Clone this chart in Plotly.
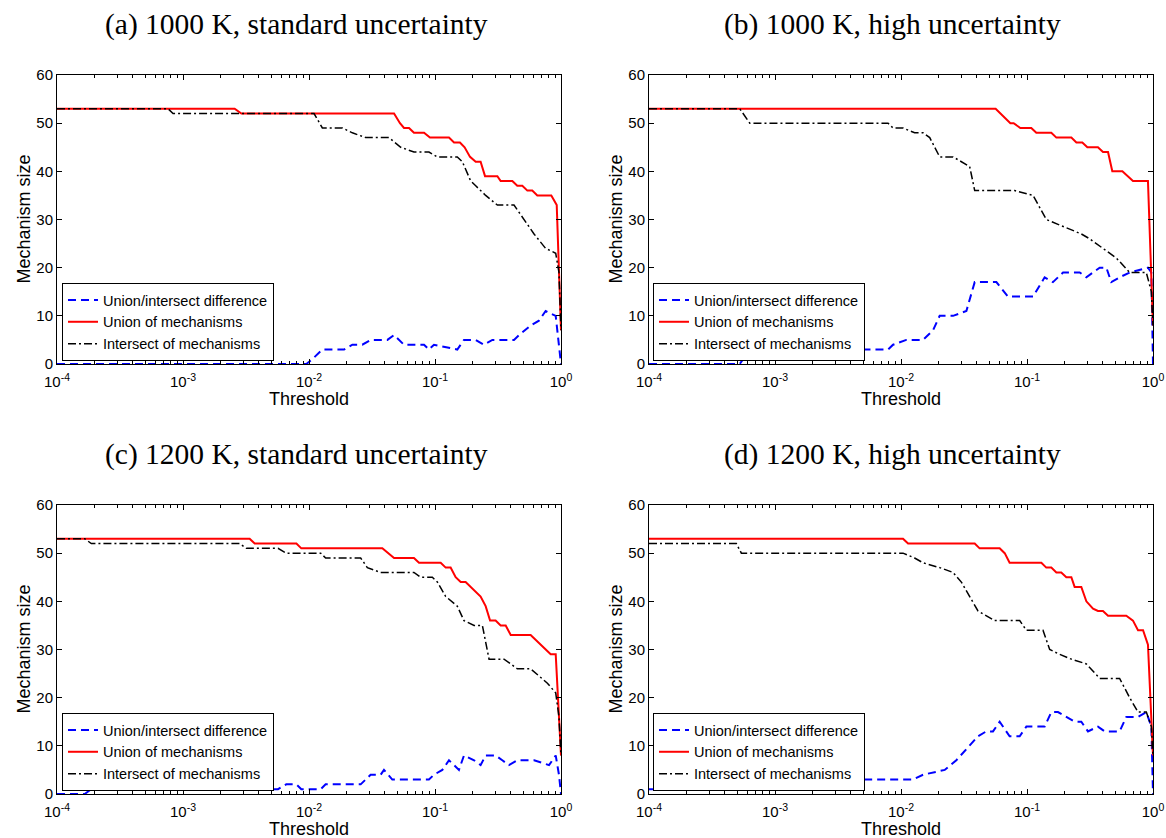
import plotly.graph_objects as go

# ---------------- data (threshold given as log10 exponent, mechanism sizes) ----------------
# (a) 1000 K, standard uncertainty
a_diff_logt = [-4, -2.021, -1.974, -1.894, -1.722, -1.656, -1.577, -1.511, -1.378, -1.325, -1.246, -1.087, -1.048,
               -1.008, -0.823, -0.770, -0.677, -0.611, -0.545, -0.373, -0.333, -0.241, -0.175, -0.122, -0.042, -0.016, 0]
a_diff = [0, 0, 1, 3, 3, 4, 4, 5, 5, 6, 4, 4, 3, 4, 3, 5, 5, 4, 5, 5, 6, 8, 9, 11, 10, 4, 0]
a_union_logt = [-4, -2.59, -2.537, -1.325, -1.278, -1.246, -1.206, -1.167, -1.087, -1.040, -0.889, -0.849, -0.802,
                -0.765, -0.722, -0.677, -0.638, -0.603, -0.505, -0.479, -0.386, -0.347, -0.307, -0.267, -0.228,
                -0.188, -0.077, -0.034, 0]
a_union = [53, 53, 52, 52, 50, 49, 49, 48, 48, 47, 47, 46, 46, 45, 43, 42, 42, 39, 39, 38, 38, 37, 37, 36, 36, 35,
           35, 33, 7]
a_inter_logt = [-4, -3.119, -3.079, -1.960, -1.894, -1.735, -1.656, -1.550, -1.365, -1.272, -1.167, -1.048, -0.981,
                -0.823, -0.783, -0.717, -0.677, -0.598, -0.505, -0.373, -0.320, -0.214, -0.122, -0.042, -0.016, 0]
a_inter = [53, 53, 52, 52, 49, 49, 48, 47, 47, 45, 44, 44, 43, 43, 42, 38, 37, 35, 33, 33, 31, 27, 24, 23, 19, 7]

# (b) 1000 K, high uncertainty
b_diff_logt = [-4, -3.28, -3.20, -2.103, -2.063, -1.958, -1.825, -1.746, -1.693, -1.587, -1.481, -1.415, -1.243,
               -1.151, -0.952, -0.860, -0.794, -0.714, -0.582, -0.529, -0.423, -0.370, -0.331, -0.265, -0.185,
               -0.040, -0.013, 0]
b_diff = [0, 0, 3, 3, 4, 5, 5, 7, 10, 10, 11, 17, 17, 14, 14, 18, 17, 19, 19, 18, 20, 20, 17, 18, 19, 20, 19, 0]
b_union_logt = [-4, -1.249, -1.132, -1.106, -1.053, -0.966, -0.926, -0.807, -0.767, -0.648, -0.608, -0.561, -0.521,
                -0.437, -0.397, -0.357, -0.323, -0.243, -0.159, -0.040, 0]
b_union = [53, 53, 50, 50, 49, 49, 48, 48, 47, 47, 46, 46, 45, 45, 44, 44, 40, 40, 38, 38, 8]
b_inter_logt = [-4, -3.28, -3.20, -2.103, -2.063, -1.984, -1.892, -1.825, -1.772, -1.693, -1.587, -1.455, -1.415,
                -1.098, -0.952, -0.847, -0.754, -0.661, -0.569, -0.503, -0.397, -0.291, -0.185, -0.053, -0.013, 0]
b_inter = [53, 53, 50, 50, 49, 49, 48, 48, 47, 43, 43, 41, 36, 36, 35, 30, 29, 28, 27, 26, 24, 22, 19, 19, 15, 8]

# (c) 1200 K, standard uncertainty
c_diff_logt = [-4, -3.78, -3.728, -2.55, -2.497, -2.471, -2.431, -2.246, -2.18, -2.10, -2.061, -1.907, -1.868,
               -1.590, -1.511, -1.431, -1.405, -1.339, -1.048, -1.008, -0.942, -0.889, -0.810, -0.770, -0.690,
               -0.638, -0.598, -0.519, -0.466, -0.413, -0.347, -0.214, -0.095, -0.042, -0.016, 0]
c_diff = [0, 0, 1, 1, 2, 2, 1, 1, 2, 2, 1, 1, 2, 2, 4, 4, 5, 3, 3, 4, 5, 7, 5, 8, 7, 6, 8, 8, 7, 6, 7, 7, 6, 8, 4, 0]
c_union_logt = [-4, -2.471, -2.431, -2.10, -2.061, -1.418, -1.325, -1.167, -1.127, -0.955, -0.915, -0.876, -0.836,
                -0.796, -0.757, -0.638, -0.598, -0.563, -0.519, -0.479, -0.439, -0.399, -0.241, -0.082, -0.042, 0]
c_union = [53, 53, 52, 52, 51, 51, 49, 49, 48, 48, 47, 47, 45, 44, 44, 41, 39, 36, 36, 35, 35, 33, 33, 29, 29, 8]
c_inter_logt = [-4, -3.78, -3.728, -2.55, -2.497, -2.246, -2.18, -1.907, -1.868, -1.590, -1.537, -1.431, -1.167,
                -1.114, -1.021, -0.981, -0.915, -0.823, -0.770, -0.690, -0.624, -0.571, -0.452, -0.347, -0.241,
                -0.108, -0.042, -0.016, 0]
c_inter = [53, 53, 52, 52, 51, 51, 50, 50, 49, 49, 47, 46, 46, 45, 45, 44, 41, 39, 36, 35, 35, 28, 28, 26, 26, 23,
           21, 16, 8]

# (d) 1200 K, high uncertainty
d_diff_logt = [-4, -3.307, -3.267, -1.984, -1.905, -1.825, -1.653, -1.561, -1.455, -1.389, -1.323, -1.270, -1.217,
               -1.138, -1.058, -1.005, -0.860, -0.807, -0.754, -0.622, -0.569, -0.516, -0.437, -0.384, -0.265,
               -0.212, -0.119, -0.053, -0.013, 0]
d_diff = [1, 1, 3, 3, 3, 4, 5, 7, 10, 12, 13, 13, 15, 12, 12, 14, 14, 17, 17, 15, 15, 13, 14, 13, 13, 16, 16, 17,
          14, 0]
d_union_logt = [-4, -1.984, -1.944, -1.415, -1.376, -1.217, -1.177, -1.138, -0.886, -0.847, -0.807, -0.767, -0.728,
                -0.688, -0.648, -0.622, -0.569, -0.529, -0.476, -0.437, -0.397, -0.357, -0.212, -0.159, -0.119,
                -0.079, -0.040, 0]
d_union = [53, 53, 52, 52, 51, 51, 50, 48, 48, 47, 47, 46, 46, 45, 45, 43, 43, 40, 38.5, 38, 38, 37, 37, 36, 34, 34,
           31, 8]
d_inter_logt = [-4, -3.307, -3.267, -1.984, -1.892, -1.825, -1.693, -1.587, -1.521, -1.455, -1.389, -1.257, -1.058,
                -1.005, -0.873, -0.820, -0.741, -0.648, -0.529, -0.423, -0.265, -0.185, -0.119, -0.053, -0.013, 0]
d_inter = [52, 52, 50, 50, 49, 48, 47, 46, 44, 41, 38, 36, 36, 34, 34, 30, 29, 28, 27, 24, 24, 20, 17, 17, 14, 8]

panel_titles = ["(a) 1000 K, standard uncertainty", "(b) 1000 K, high uncertainty",
                "(c) 1200 K, standard uncertainty", "(d) 1200 K, high uncertainty"]
series_names = ["Union/intersect difference", "Union of mechanisms", "Intersect of mechanisms"]
x_tick_vals = [1e-4, 1e-3, 1e-2, 1e-1, 1]
x_tick_text = ["10<sup>-4</sup>", "10<sup>-3</sup>", "10<sup>-2</sup>", "10<sup>-1</sup>", "10<sup>0</sup>"]
y_tick_vals = [0, 10, 20, 30, 40, 50, 60]

panels = [
    [(a_diff_logt, a_diff), (a_union_logt, a_union), (a_inter_logt, a_inter)],
    [(b_diff_logt, b_diff), (b_union_logt, b_union), (b_inter_logt, b_inter)],
    [(c_diff_logt, c_diff), (c_union_logt, c_union), (c_inter_logt, c_inter)],
    [(d_diff_logt, d_diff), (d_union_logt, d_union), (d_inter_logt, d_inter)],
]

# ---------------- layout geometry ----------------
W, H = 1166, 838
px_x = [(57, 561), (649, 1153), (57, 561), (649, 1153)]
px_y = [(75, 364), (75, 364), (505, 794), (505, 794)]
legend_pos = [(62, 361), (653, 361), (62, 791), (653, 791)]
title_pos = [(296, 24), (892, 24), (296, 454), (892, 454)]

styles = [
    dict(color="#0000ff", width=2, dash="8px,5px"),
    dict(color="#ff0000", width=2, dash="solid"),
    dict(color="#000000", width=1.5, dash="8px,3px,2px,3px"),
]

SANS = "Liberation Sans, Arial, sans-serif"
SERIF = "Liberation Serif, Times New Roman, serif"

minor_vals = [k * 10.0 ** e for e in range(-4, 0) for k in range(2, 10)]

fig = go.Figure()
layout = dict(width=W, height=H, margin=dict(l=0, r=0, t=0, b=0, pad=0, autoexpand=False), autosize=False,
              paper_bgcolor="white", plot_bgcolor="white", annotations=[])

for i, panel in enumerate(panels):
    sfx = "" if i == 0 else str(i + 1)
    legname = "legend" + sfx
    for (logt, vals), name, st in zip(panel, series_names, styles):
        fig.add_trace(go.Scatter(
            x=[10 ** v for v in logt], y=vals, mode="lines", name=name,
            line=st, xaxis="x" + sfx, yaxis="y" + sfx, legend=legname, showlegend=True,
            hoverinfo="x+y"))
    x0, x1 = px_x[i]
    y0, y1 = px_y[i]
    layout["xaxis" + sfx] = dict(
        type="log", range=[-4, 0], domain=[x0 / W, x1 / W], anchor="y" + sfx,
        showline=True, linecolor="black", linewidth=1, mirror="ticks",
        ticks="inside", ticklen=5, tickcolor="black", tickwidth=1,
        tickmode="array", tickvals=x_tick_vals, ticktext=x_tick_text,
        tickfont=dict(family=SANS, size=15, color="black"), ticklabelstandoff=4,
        minor=dict(ticks="inside", ticklen=3, tickcolor="black", tickwidth=1,
                   tickmode="array", tickvals=minor_vals, showgrid=False),
        showgrid=False, zeroline=False, automargin=False)
    layout["yaxis" + sfx] = dict(
        range=[0, 60], domain=[1 - y1 / H, 1 - y0 / H], anchor="x" + sfx,
        showline=True, linecolor="black", linewidth=1, mirror="ticks",
        ticks="inside", ticklen=5, tickcolor="black", tickwidth=1,
        tickmode="array", tickvals=y_tick_vals,
        tickfont=dict(family=SANS, size=15, color="black"),
        showgrid=False, zeroline=False, automargin=False)
    lx, ly = legend_pos[i]
    layout[legname] = dict(
        x=lx / W, y=1 - ly / H, xanchor="left", yanchor="bottom",
        bgcolor="white", bordercolor="black", borderwidth=1,
        font=dict(family=SANS, size=14.5, color="black"),
        tracegroupgap=0, itemwidth=30, traceorder="normal")
    tx, ty = title_pos[i]
    layout["annotations"].append(dict(
        text=panel_titles[i], x=tx / W, y=1 - ty / H, xref="paper", yref="paper",
        xanchor="center", yanchor="middle", showarrow=False,
        font=dict(family=SERIF, size=29.5, color="black")))
    # axis titles
    layout["annotations"].append(dict(
        text="Mechanism size", x=(x0 - 34) / W, y=1 - ((y0 + y1) / 2) / H, xref="paper", yref="paper",
        xanchor="center", yanchor="middle", textangle=-90, showarrow=False,
        font=dict(family=SANS, size=18, color="black")))
    layout["annotations"].append(dict(
        text="Threshold", x=((x0 + x1) / 2) / W, y=1 - (y1 + 35) / H, xref="paper", yref="paper",
        xanchor="center", yanchor="middle", showarrow=False,
        font=dict(family=SANS, size=18, color="black")))

fig.update_layout(**layout)
fig.write_html("out.html")
